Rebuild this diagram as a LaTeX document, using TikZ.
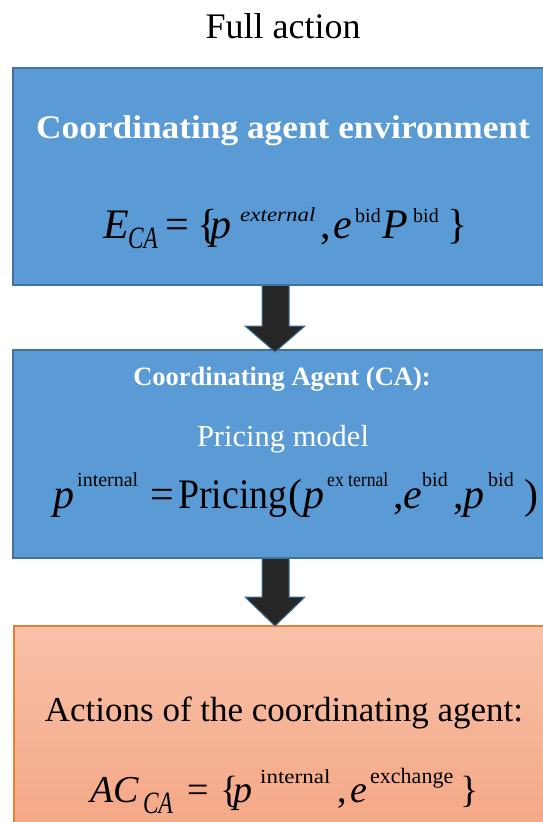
\documentclass[tikz,border=0pt]{standalone}
\usepackage{fontspec}
\usepackage{graphicx}
\setmainfont{Liberation Serif}
\definecolor{boxblue}{HTML}{5B9BD5}
\definecolor{boxblueedge}{HTML}{41719C}
\definecolor{arrowdark}{HTML}{262626}
\definecolor{orangeedge}{HTML}{ED7D31}
\definecolor{peachtop}{HTML}{F8C1A8}
\definecolor{peachbot}{HTML}{F4A684}
\newcommand{\fs}[1]{\fontsize{#1}{#1}\selectfont}
\newcommand{\pc}[2]{\makebox[#1pt][l]{#2}}
\tikzset{
  bluebox/.style={draw=boxblueedge, line width=1.8pt, fill=boxblue},
  peachbox/.style={draw=orangeedge, line width=1.2pt, top color=peachtop, bottom color=peachbot},
  bigarrow/.style={draw=boxblueedge, line width=1pt, fill=arrowdark, line join=miter},
  txt/.style={inner sep=0pt, anchor=base},
  mth/.style={inner sep=0pt, anchor=base west},
}
\begin{document}
\begin{tikzpicture}[x=1pt,y=-1pt]
\useasboundingbox (0,0) rectangle (542,822);
% boxes
\draw[bluebox] (13,68) rectangle (560,285);
\draw[bluebox] (13,350) rectangle (560,558);
\draw[peachbox] (14,626) rectangle (560,840);
% arrows
\draw[bigarrow] (262,286) -- (262,326) -- (245,326) -- (275,352) -- (305,326) -- (289,326) -- (289,286);
\draw[bigarrow] (262,559) -- (262,597) -- (245,597) -- (275,626) -- (305,597) -- (289,597) -- (289,559);
% texts
\node[txt] (title) at (283,38) {\fs{36}Full action};
\node[txt, text=white] (t1) at (283,138) {\scalebox{1.07}[1]{\fs{33}\bfseries Coordinating agent environment}};
\node[mth] (m1) at (103,238) {\fs{42}%
  \pc{25}{\textit{E}}%
  \pc{37}{\raisebox{-10pt}{\scalebox{0.75}[1]{\fs{31}\textit{CA}}}}%
  \pc{32}{=}%
  \pc{13}{\{}%
  \pc{30}{\textit{p}}%
  \pc{80}{\raisebox{17pt}{\scalebox{1.15}[1]{\fs{20}\textit{external}}}}%
  \pc{13}{,}%
  \pc{22}{\textit{e}}%
  \pc{27}{\raisebox{16pt}{\fs{20}bid}}%
  \pc{31}{\textit{P}}%
  \pc{34}{\raisebox{16pt}{\fs{20}bid}}%
  \}};
\node[txt, text=white] (t2) at (282,385) {\fs{26.5}\bfseries Coordinating Agent (CA):};
\node[txt, text=white] (t3) at (283,446) {\fs{30.5}Pricing model};
\node[mth] (m2) at (53,508) {\fs{42}%
  \pc{24}{\textit{p}}%
  \pc{73}{\raisebox{22pt}{\fs{20}internal}}%
  \pc{28}{=}%
  \pc{110}{\scalebox{0.9}[1]{Pricing}}%
  \pc{15}{(}%
  \pc{24}{\textit{p}}%
  \pc{66}{\raisebox{22pt}{\scalebox{0.88}[1]{\fs{20}ex ternal}}}%
  \pc{10}{,}%
  \pc{19}{\textit{e}}%
  \pc{31}{\raisebox{22pt}{\fs{20}bid}}%
  \pc{10}{,}%
  \pc{25}{\textit{p}}%
  \pc{36}{\raisebox{22pt}{\fs{20}bid}}%
  )};
\node[txt] (t4) at (284,721) {\fs{35}Actions of the coordinating agent:};
\node[mth] (m3) at (90,802) {\fs{38}%
  \pc{53}{\textit{AC}}%
  \pc{44}{\raisebox{-11pt}{\scalebox{0.75}[1]{\fs{31}\textit{CA}}}}%
  \pc{33}{=}%
  \pc{13}{\{}%
  \pc{27}{\textit{p}}%
  \pc{77}{\raisebox{19pt}{\scalebox{1.15}[1]{\fs{20}internal}}}%
  \pc{13}{,}%
  \pc{20}{\textit{e}}%
  \pc{90}{\raisebox{19pt}{\fs{22}exchange}}%
  \}};
\end{tikzpicture}
\end{document}
